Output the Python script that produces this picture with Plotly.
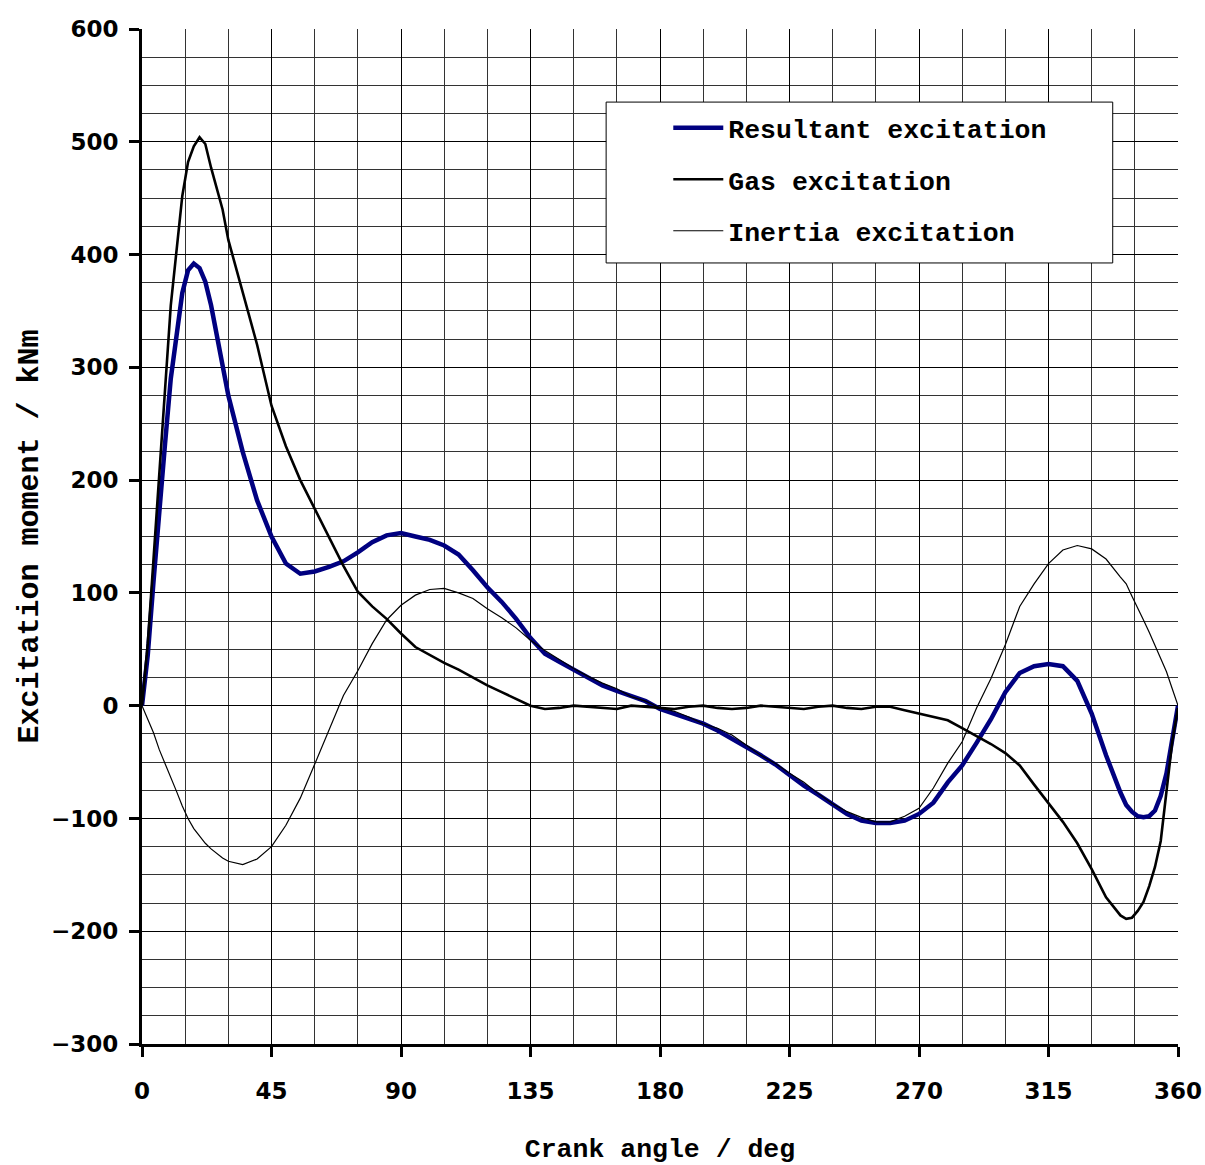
import plotly.graph_objects as go

angle_deg = [0, 2, 4, 6, 8, 10, 12, 14, 16, 18, 20, 22, 24, 26, 28, 30, 35, 40, 45, 50, 55, 60, 65, 70,
             75, 80, 85, 90, 95, 100, 105, 110, 115, 120, 125, 130, 135, 140, 145, 150, 155, 160, 165,
             170, 175, 180, 185, 190, 195, 200, 205, 210, 215, 220, 225, 230, 235, 240, 245, 250, 255,
             260, 265, 270, 275, 280, 285, 290, 295, 300, 305, 310, 315, 320, 325, 330, 335, 340, 342,
             344, 346, 348, 350, 352, 354, 356, 358, 360]

gas = [0, 55, 130, 210, 280, 355, 405, 452, 482, 496, 504, 498, 477, 458, 440, 413, 366, 320, 266, 230,
       200, 175, 149, 124, 101, 88, 77, 64, 52, 45, 38, 32, 25, 18, 12, 6, 0, -3, -2, 0, -1, -2, -3,
       0, -1, -2, -3, -1, 0, -2, -3, -2, 0, -1, -2, -3, -1, 0, -2, -3, -1,
       -1, -4, -7, -10, -13, -20, -27, -34, -42, -53, -70, -86, -103, -122, -145, -170, -186, -189,
       -188, -182, -174, -160, -143, -120, -75, -32, -2]

resultant = [0, 45, 110, 177, 232, 290, 332, 366, 386, 392, 388, 376, 355, 330, 300, 275, 225, 182, 150,
             126, 117, 119, 123, 128, 136, 145, 151, 153, 150, 147, 142, 134, 120, 105, 92, 77, 60, 46,
             39, 32, 25, 18, 13, 9, 4, -3, -7, -11, -16, -22, -29, -37, -44, -52, -62, -71, -79, -87,
             -96, -102, -104, -104, -102, -96, -86, -68, -53, -33, -12, 12, 29, 35, 37, 35, 22, -7,
             -44, -77, -88, -94, -98, -99, -98, -93, -80, -60, -30, 0]

inertia = [0, -12, -24, -39, -51, -64, -76, -89, -100, -109, -116, -122, -127, -131, -135, -138, -141,
           -136, -125, -106, -82, -52, -22, 9, 31, 55, 76, 89, 98, 103, 104, 100, 95, 86, 78, 69, 58,
           49, 41, 33, 26, 20, 15, 8, 4, -2, -5, -10, -16, -20, -26, -35, -44, -51, -60, -68, -78, -87,
           -94, -99, -103, -103, -98, -91, -73, -51, -32, -2, 24, 54, 88, 108, 126, 138, 142, 139, 130,
           114, 108, 97, 87, 76, 65, 53, 42, 30, 15, 0]

x_ticks = [0, 45, 90, 135, 180, 225, 270, 315, 360]
y_ticks = [-300, -200, -100, 0, 100, 200, 300, 400, 500, 600]

mono = "Liberation Mono, Courier New, monospace"
sans = "DejaVu Sans, Verdana, sans-serif"

fig = go.Figure()
fig.add_trace(go.Scatter(x=angle_deg, y=resultant, mode="lines", name="Resultant excitation",
                         line=dict(color="#000080", width=4.5), legendgroup="a"))
fig.add_trace(go.Scatter(x=angle_deg, y=gas, mode="lines", name="Gas excitation",
                         line=dict(color="black", width=2.6), legendgroup="b"))
fig.add_trace(go.Scatter(x=angle_deg, y=inertia, mode="lines", name="Inertia excitation",
                         line=dict(color="black", width=1.2), legendgroup="c"))

# legend frame
fig.add_shape(type="rect", xref="paper", yref="paper", x0=0.448, x1=0.937, y0=0.7695, y1=0.928,
              fillcolor="white", line=dict(color="black", width=1), layer="above")

fig.update_layout(
    width=1205, height=1165,
    margin=dict(l=142, r=27, t=29, b=121, autoexpand=False),
    paper_bgcolor="white", plot_bgcolor="white",
    showlegend=True,
    legend=dict(x=0.508, y=0.926, xanchor="left", yanchor="top",
                bgcolor="rgba(0,0,0,0)", borderwidth=0,
                font=dict(family=mono, size=26.5, color="black", weight="bold"),
                tracegroupgap=14, itemwidth=50),
    xaxis=dict(range=[0, 360], tickvals=x_ticks, ticktext=[str(v) for v in x_ticks],
               automargin=False, ticklabeloverflow="allow",
               showgrid=True, gridcolor="black", gridwidth=1,
               minor=dict(dtick=15, tick0=0, showgrid=True, gridcolor="#333333", gridwidth=1, ticks=""),
               showline=True, linecolor="black", linewidth=3,
               ticks="outside", ticklen=10, tickwidth=3, tickcolor="black",
               ticklabelstandoff=14,
               tickfont=dict(family=sans, size=23, color="black", weight="bold"),
               zeroline=False,
               title=dict(text="Crank angle / deg", standoff=40,
                          font=dict(family=mono, size=26.5, color="black", weight="bold"))),
    yaxis=dict(range=[-300, 600], tickvals=y_ticks,
               automargin=False, ticklabeloverflow="allow",
               showgrid=True, gridcolor="black", gridwidth=1,
               minor=dict(dtick=25, tick0=0, showgrid=True, gridcolor="#333333", gridwidth=1, ticks=""),
               showline=True, linecolor="black", linewidth=3,
               ticks="outside", ticklen=10, tickwidth=3, tickcolor="black",
               ticklabelstandoff=6,
               tickfont=dict(family=sans, size=23, color="black", weight="bold"),
               zeroline=False,
               title=dict(text="Excitation moment / kNm", standoff=4,
                          font=dict(family=mono, size=30, color="black", weight="bold"))),
)

fig.write_html("out.html", config={"displayModeBar": False},
               post_script="document.body.style.margin='0';")
